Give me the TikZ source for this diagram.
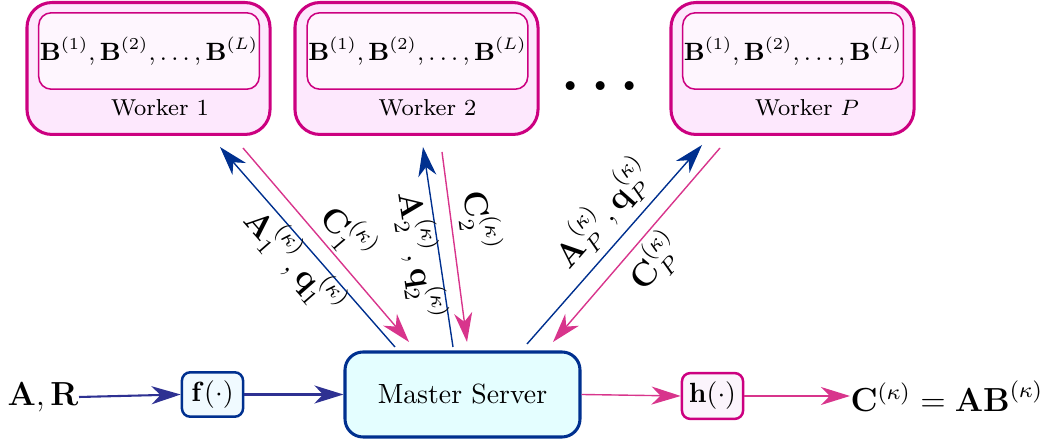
\documentclass[tikz,border=0pt]{standalone}
\usepackage{amsmath,amssymb}
\usetikzlibrary{arrows.meta}
\definecolor{mag}{HTML}{CC0080}
\definecolor{pinkarr}{HTML}{D8358C}
\definecolor{darkblue}{HTML}{00308F}
\definecolor{indig}{HTML}{2E3192}
\definecolor{wfill}{HTML}{FDE8FD}
\definecolor{ifill}{HTML}{FEF6FE}
\definecolor{mfill}{HTML}{E4FEFF}
\definecolor{ffill}{HTML}{F0FAFF}
\definecolor{hfill}{HTML}{FBF4FC}
\begin{document}
\begin{tikzpicture}[x=0.36pt,y=-0.36pt,
  tip/.tip={Stealth[length=10.5pt,width=6.5pt,inset=3.2pt]},
  workerbox/.style={draw=mag,fill=wfill,line width=1.1pt,rounded corners=9pt,
    minimum width=87.5pt,minimum height=47.5pt,inner sep=0pt},
  innerbox/.style={draw=mag,fill=ifill,line width=0.55pt,rounded corners=4.5pt,
    minimum width=79.4pt,minimum height=27.5pt,inner sep=0pt,font=\fontsize{9.1}{11}\selectfont},
  wlabel/.style={anchor=base,font=\fontsize{8.3}{10}\selectfont},
  masterbox/.style={draw=darkblue,fill=mfill,line width=1.1pt,rounded corners=6.5pt,
    minimum width=84.6pt,minimum height=30.6pt,inner sep=0pt},
  fbox/.style={draw=darkblue,fill=ffill,line width=0.9pt,rounded corners=3pt,
    minimum width=22pt,minimum height=16pt,inner sep=0pt},
  hbox/.style={draw=mag,fill=hfill,line width=0.9pt,rounded corners=3pt,
    minimum width=22pt,minimum height=16.5pt,inner sep=0pt},
  bluearr/.style={draw=darkblue,line width=0.5pt,-tip,fill=darkblue},
  pinkarr/.style={draw=pinkarr,line width=0.5pt,-tip,fill=pinkarr},
  indarr/.style={draw=indig,line width=0.75pt,-tip,fill=indig},
  lab/.style={font=\large,sloped,inner sep=1pt}
]
\useasboundingbox (0,0) rectangle (1041,443);

% workers
\node[workerbox] (w1) at (148.5,68.5) {};
\node[innerbox] (i1) at (149,51) {$\mathbf{B}^{(1)},\mathbf{B}^{(2)},\ldots,\mathbf{B}^{(L)}$};
\node[wlabel] (l1) at (160,116) {Worker 1};

\node[workerbox] (w2) at (416.5,68.5) {};
\node[innerbox] (i2) at (417.5,51) {$\mathbf{B}^{(1)},\mathbf{B}^{(2)},\ldots,\mathbf{B}^{(L)}$};
\node[wlabel] (l2) at (427.5,116) {Worker 2};

\node[workerbox] (wP) at (792.5,68.5) {};
\node[innerbox] (iP) at (793,51) {$\mathbf{B}^{(1)},\mathbf{B}^{(2)},\ldots,\mathbf{B}^{(L)}$};
\node[wlabel] (lP) at (807,116) {Worker $P$};

\node (dots) at (606,87) {\huge$\boldsymbol{\cdots}$};

% bottom row
\node[masterbox] (ms) at (462.5,394.5) {Master Server};
\node[fbox] (f) at (212.5,394.5) {$\mathbf{f}(\cdot)$};
\node[hbox] (h) at (712.5,396) {$\mathbf{h}(\cdot)$};
\node[font=\large,inner sep=0pt] (AR) at (43,397) {$\mathbf{A},\mathbf{R}$};
\node[font=\large,anchor=west,inner sep=0pt] (C) at (850,396) {$\mathbf{C}^{(\kappa)}=\mathbf{AB}^{(\kappa)}$};

\draw[indarr] (AR.east) -- (f.west);
\draw[indarr] (f.east) -- (ms.west);
\draw[pinkarr] (ms.east) -- (h.west);
\draw[pinkarr] (h.east) -- (C.west);

% diagonal endpoints
\coordinate (b1s) at (395,347); \coordinate (b1e) at (220,147);
\coordinate (p1s) at (243,148); \coordinate (p1e) at (409,342);
\coordinate (b2s) at (453,347); \coordinate (b2e) at (423,147);
\coordinate (p2s) at (442,152); \coordinate (p2e) at (467,342);
\coordinate (bPs) at (527,344); \coordinate (bPe) at (702,145);
\coordinate (pPs) at (720,148); \coordinate (pPe) at (553,342);

\draw[bluearr] (b1s) -- node[lab,below=-2pt,pos=0.49] {$\mathbf{A}_1^{(\kappa)},\mathbf{q}_1^{(\kappa)}$} (b1e);
\draw[pinkarr] (p1s) -- node[lab,above,pos=0.52] {$\mathbf{C}_1^{(\kappa)}$} (p1e);
\draw[bluearr] (b2s) -- node[lab,below=-2pt,pos=0.47] {$\mathbf{A}_2^{(\kappa)},\mathbf{q}_2^{(\kappa)}$} (b2e);
\draw[pinkarr] (p2s) -- node[lab,above=1.5pt,pos=0.38] {$\mathbf{C}_2^{(\kappa)}$} (p2e);
\draw[bluearr] (bPs) -- node[lab,above=1.5pt,pos=0.56] {$\mathbf{A}_P^{(\kappa)},\mathbf{q}_P^{(\kappa)}$} (bPe);
\draw[pinkarr] (pPs) -- node[lab,below,pos=0.50] {$\mathbf{C}_P^{(\kappa)}$} (pPe);
\end{tikzpicture}
\end{document}
